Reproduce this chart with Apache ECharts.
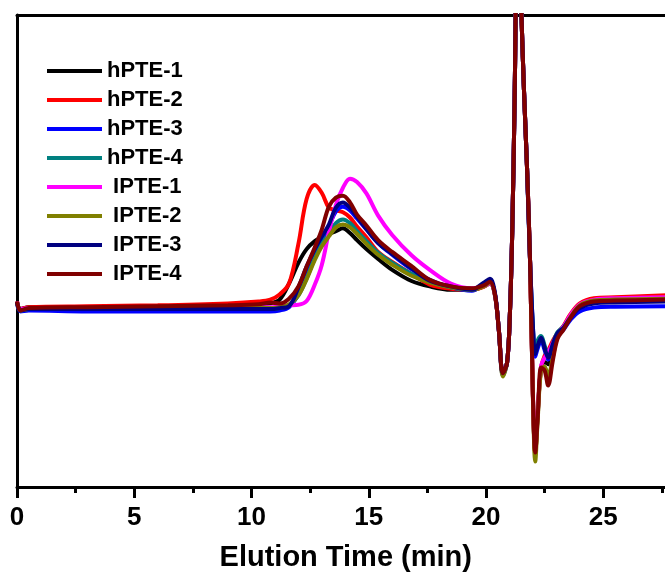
<!DOCTYPE html>
<html>
<head>
<meta charset="utf-8">
<script src="https://cdn.jsdelivr.net/npm/echarts@6/dist/echarts.min.js"></script>
<style>
html,body{margin:0;padding:0;background:#fff;overflow:hidden;width:665px;height:577px;}
#c{width:721px;height:577px;}
</style>
</head>
<body>
<div id="c"></div>
<script>
var time = [0, 0.15, 0.5, 3, 6, 9, 10.3, 10.8, 11.2, 11.6, 12.0, 12.35, 12.7, 13.0, 13.3, 13.6, 13.9, 14.2, 14.5, 14.9, 15.4, 16.0, 16.8, 17.6, 18.5, 19.4, 19.9, 20.17, 20.38, 20.55, 20.72, 20.9, 21.02, 21.12, 21.22, 21.36, 21.5, 21.62, 21.75, 21.88, 22.0, 22.1, 22.2, 22.35, 22.5, 22.65, 22.85, 23.05, 23.3, 23.6, 24.0, 24.6, 25.5, 27.7];

var seriesNames = ['hPTE-1', 'hPTE-2', 'hPTE-3', 'hPTE-4', 'IPTE-1', 'IPTE-2', 'IPTE-3', 'IPTE-4'];
var seriesColors = ['#000000', '#ff0000', '#0000ff', '#008080', '#ff00ff', '#808000', '#000080', '#800000'];

var hPTE1 = [39.3, 37.7, 38.1, 38.1, 38.3, 38.5, 38.7, 38.9, 39.7, 43.1, 47.5, 50.4, 52.1, 52.9, 53.6, 54.2, 54.8, 53.8, 52.3, 50.4, 48.3, 46.0, 43.7, 42.5, 41.8, 41.8, 42.5, 43.1, 40.6, 33.1, 24.1, 26.4, 36.8, 54.4, 82, 130, 102, 84, 67.6, 47.7, 19.5, 7.3, 15.0, 25.3, 26.5, 26.0, 29.5, 32.2, 33.7, 36.2, 38.7, 39.7, 39.9, 40.2];
var hPTE2 = [39.3, 37.7, 38.1, 38.3, 38.5, 38.9, 39.3, 39.7, 40.8, 43.1, 51.5, 61.0, 64.0, 62.3, 59.2, 58.6, 58.2, 57.1, 55.2, 52.9, 49.8, 47.7, 45.2, 42.9, 42.0, 41.8, 42.4, 43.3, 40.8, 33.1, 24.1, 26.4, 36.8, 54.4, 82, 130, 102, 84, 67.6, 47.7, 19.5, 6.9, 15.3, 25.3, 27.8, 28.9, 31.0, 32.6, 34.1, 36.6, 38.9, 40.0, 40.2, 40.6];
var hPTE3 = [38.9, 37.2, 37.4, 37.2, 37.2, 37.2, 37.2, 37.2, 37.4, 38.1, 40.8, 45.0, 49.6, 52.5, 55.2, 58.4, 59.4, 58.6, 56.9, 54.6, 51.7, 49.2, 46.2, 43.9, 42.3, 41.6, 43.0, 43.7, 41.0, 33.1, 23.6, 26.4, 36.8, 54.4, 82, 130, 102, 84, 67.6, 47.7, 34.1, 27.6, 29.3, 31.0, 29.0, 27.0, 29.7, 32.2, 33.3, 35.4, 37.2, 38.0, 38.2, 38.3];
var hPTE4 = [39.1, 37.4, 37.7, 37.7, 37.7, 37.7, 37.7, 37.7, 37.9, 38.5, 40.6, 44.2, 48.5, 51.5, 53.6, 55.9, 56.7, 55.9, 54.2, 52.1, 49.6, 47.5, 45.2, 43.5, 42.3, 41.8, 42.9, 43.7, 41.0, 33.1, 24.1, 26.4, 36.8, 54.4, 82, 130, 102, 84, 67.6, 47.7, 33.5, 28.8, 31.0, 32.0, 30.0, 28.0, 30.5, 32.8, 34.0, 36.0, 38.2, 39.1, 39.3, 39.5];
var IPTE1 = [39.3, 37.7, 37.9, 37.9, 38.1, 38.1, 38.1, 38.1, 38.3, 38.5, 38.6, 39.4, 42.9, 47.1, 54.0, 59.8, 63.4, 65.3, 64.6, 62.2, 57.5, 53.4, 49.2, 46.0, 43.1, 42.1, 42.5, 43.1, 40.8, 33.1, 24.1, 26.4, 36.8, 54.4, 82, 130, 102, 84, 67.6, 47.7, 19.5, 7.9, 15.3, 25.7, 27.4, 28.5, 30.5, 32.4, 33.9, 36.4, 38.7, 39.7, 40.0, 40.2];
var IPTE2 = [39.1, 37.4, 37.7, 37.9, 37.9, 37.9, 37.9, 37.9, 38.1, 38.7, 40.6, 44.0, 48.1, 51.0, 53.1, 55.0, 55.6, 55.0, 53.6, 51.5, 49.2, 47.1, 44.8, 43.3, 42.3, 41.8, 42.5, 43.3, 40.8, 33.1, 23.4, 26.4, 36.8, 54.4, 82, 130, 102, 84, 67.6, 47.7, 19.0, 5.4, 13.8, 24.9, 25.5, 23.5, 27.5, 31.8, 33.5, 36.0, 38.5, 39.5, 39.7, 39.9];
var IPTE3 = [39.1, 37.4, 37.7, 37.7, 37.7, 37.7, 37.7, 37.7, 37.9, 38.3, 42.3, 46.7, 50.4, 53.1, 55.6, 59.2, 60.3, 59.2, 57.3, 54.6, 51.7, 49.4, 46.4, 43.7, 42.5, 41.8, 43.3, 44.1, 41.2, 33.1, 24.1, 26.4, 36.8, 54.4, 82, 130, 102, 84, 67.6, 47.7, 34.1, 28.2, 29.9, 31.6, 29.5, 27.4, 30.3, 32.6, 33.7, 35.8, 37.9, 38.9, 39.1, 39.3];
var IPTE4 = [39.3, 37.4, 37.9, 38.1, 38.3, 38.5, 38.7, 39.1, 38.9, 39.9, 42.5, 46.7, 50.8, 54.6, 59.4, 61.3, 61.7, 60.3, 57.7, 55.4, 52.3, 49.8, 46.9, 43.9, 42.5, 42.1, 42.7, 43.5, 40.8, 33.1, 24.1, 26.4, 36.8, 54.4, 82, 130, 102, 84, 67.6, 47.7, 19.5, 7.3, 14.2, 25.3, 24.7, 21.5, 26.8, 31.4, 33.3, 35.8, 38.3, 39.3, 39.5, 39.7];

var seriesValues = [hPTE1, hPTE2, hPTE3, hPTE4, IPTE1, IPTE2, IPTE3, IPTE4];

var FONT = '"Liberation Sans", Arial, sans-serif';

var chart = echarts.init(document.getElementById('c'), null, {renderer: 'canvas'});

var series = seriesNames.map(function (name, k) {
  return {
    name: name,
    type: 'line',
    xAxisIndex: 0,
    yAxisIndex: 0,
    data: time.map(function (t, i) { return [t, seriesValues[k][i]]; }),
    symbol: 'none',
    showSymbol: false,
    smooth: 0.35,
    clip: true,
    color: seriesColors[k],
    lineStyle: {width: 4, color: seriesColors[k]}
  };
});

chart.setOption({
  animation: false,
  backgroundColor: '#ffffff',
  grid: {left: 17, top: 15, right: 0.5, bottom: 84, containLabel: false},
  legend: {
    orient: 'vertical',
    left: 42,
    top: 55,
    icon: 'rect',
    itemWidth: 55,
    itemHeight: 4,
    itemGap: 7,
    data: seriesNames,
    formatter: function (n) { return n.charAt(0) === 'I' ? ' ' + n : n; },
    textStyle: {fontFamily: FONT, fontWeight: 'bold', fontSize: 22, color: '#000'}
  },
  xAxis: [{
    type: 'value',
    position: 'bottom',
    min: 0,
    max: 30,
    interval: 5,
    name: 'Elution Time (min)',
    nameLocation: 'middle',
    nameGap: 56,
    nameTextStyle: {fontFamily: FONT, fontWeight: 'bold', fontSize: 29, color: '#000', padding: [0, 46, 0, 0]},
    axisLine: {show: true, onZero: false, lineStyle: {color: '#000', width: 3}},
    axisTick: {show: true, inside: false, length: 11, lineStyle: {color: '#000', width: 3}},
    minorTick: {show: true, splitNumber: 2, length: 6, lineStyle: {color: '#000', width: 3}},
    splitLine: {show: false},
    minorSplitLine: {show: false},
    axisLabel: {fontFamily: FONT, fontWeight: 'bold', fontSize: 26, color: '#000', margin: 18, showMaxLabel: false}
  }, {
    type: 'value',
    position: 'top',
    min: 0,
    max: 30,
    axisLine: {show: true, onZero: false, lineStyle: {color: '#000', width: 3}},
    axisTick: {show: false},
    axisLabel: {show: false},
    splitLine: {show: false}
  }],
  yAxis: {
    type: 'value',
    min: 0,
    max: 100,
    axisLine: {show: true, onZero: false, lineStyle: {color: '#000', width: 3}},
    axisTick: {show: false},
    axisLabel: {show: false},
    splitLine: {show: false}
  },
  series: series
});
</script>
</body>
</html>
